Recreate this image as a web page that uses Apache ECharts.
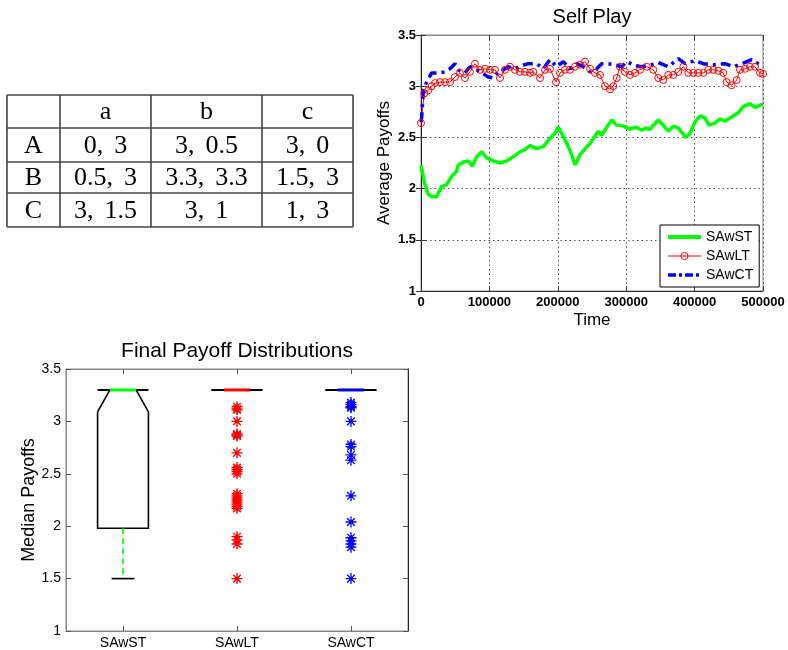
<!DOCTYPE html>
<html>
<head>
<meta charset="utf-8">
<script src="https://cdn.jsdelivr.net/npm/echarts@6/dist/echarts.min.js"></script>
<style>
html,body{margin:0;padding:0;background:#fff;}
#chart{width:788px;height:650px;}
</style>
</head>
<body>
<div id="chart"></div>
<script>
// ---------- Table data ----------
var tableColHeads = ['', 'a', 'b', 'c'];
var tableRowHeads = ['A', 'B', 'C'];
var tableCells = [
  ['0, 3', '3, 0.5', '3, 0'],
  ['0.5, 3', '3.3, 3.3', '1.5, 3'],
  ['3, 1.5', '3, 1', '1, 3']
];

// ---------- Self Play line data ----------
var stT = [0,5000,10000,15600,23000,30000,37600,44900,52200,54600,61900,69200,75000,81400,88700,96000,105700,115500,125300,135000,142300,152000,159400,169100,178800,188600,196000,200700,208000,215300,220300,225100,232500,239800,247100,251900,259200,264200,271500,278800,286100,295800,305600,315000,322600,327500,334800,347000,354200,361500,368900,376200,381100,387000,393300,400600,407900,415200,421000,429800,437100,444400,454200,463900,471200,481000,488300,497100,500000];
var stV = [2.23,2.06,1.95,1.92,1.92,2.02,2.04,2.12,2.17,2.23,2.26,2.27,2.22,2.31,2.36,2.30,2.27,2.25,2.27,2.31,2.35,2.38,2.42,2.39,2.41,2.49,2.54,2.60,2.51,2.41,2.33,2.23,2.33,2.39,2.44,2.49,2.56,2.52,2.60,2.67,2.62,2.61,2.58,2.60,2.57,2.59,2.58,2.67,2.62,2.56,2.61,2.59,2.55,2.50,2.54,2.65,2.71,2.69,2.62,2.64,2.68,2.66,2.70,2.74,2.80,2.83,2.79,2.82,2.82];

var ltT = [0,4800,10700,15600,20500,27800,35100,42400,49700,57000,64300,71600,78900,86300,93600,100900,108200,115500,122800,130100,137400,144700,152000,159400,164200,174000,181300,188600,197400,203200,210500,217800,225100,232500,239800,247100,254400,261700,269000,276300,281100,286100,290900,298200,305600,312900,320200,330000,339600,346900,354200,361500,368900,376200,383500,390800,398100,405400,412700,420000,427300,434700,442000,446900,454200,461500,466400,473700,481000,488300,495600,500000];
var ltV = [2.64,2.93,2.96,3.00,3.03,3.04,3.04,3.04,3.09,3.13,3.08,3.14,3.22,3.16,3.17,3.16,3.16,3.08,3.16,3.19,3.16,3.14,3.14,3.13,3.14,3.08,3.16,3.17,3.04,3.13,3.16,3.16,3.19,3.21,3.24,3.17,3.13,3.11,3.00,2.97,3.00,3.08,3.19,3.14,3.11,3.13,3.16,3.19,3.16,3.08,3.06,3.11,3.11,3.14,3.19,3.13,3.13,3.13,3.13,3.16,3.16,3.15,3.13,3.04,3.01,3.06,3.16,3.17,3.19,3.19,3.13,3.12];

var ctT = [0,1000,3400,8300,15600,25300,35100,42400,49700,54500,64300,71600,78900,88700,98400,105700,113000,120300,127600,137400,147200,156900,169100,178800,188600,198400,208000,217800,227600,237300,247100,256900,264200,273800,283600,293400,300700,310400,320200,332300,346900,361500,376200,386000,400600,412700,427300,444400,456500,468800,483500,495600,500000];
var ctV = [2.65,2.70,2.96,3.04,3.13,3.13,3.14,3.17,3.22,3.16,3.13,3.19,3.17,3.13,3.09,3.08,3.14,3.16,3.19,3.17,3.20,3.22,3.22,3.17,3.26,3.19,3.24,3.17,3.22,3.19,3.14,3.17,3.22,3.22,3.21,3.19,3.24,3.21,3.19,3.20,3.23,3.19,3.27,3.22,3.25,3.22,3.21,3.22,3.19,3.22,3.26,3.21,3.20];

// ---------- Box plot data ----------
var boxCats = ['SAwST', 'SAwLT', 'SAwCT'];
var boxMin = [1.5, 3.3, 3.3];
var boxQ1 = [1.98, 3.3, 3.3];
var boxMed = [3.3, 3.3, 3.3];
var boxQ3 = [3.3, 3.3, 3.3];
var boxMax = [3.3, 3.3, 3.3];
var boxNotchLo = [3.09, 3.3, 3.3];
var ltOutliers = [3.14,3.12,3.11,3.0,2.88,2.87,2.86,2.7,2.56,2.54,2.52,2.5,2.31,2.29,2.27,2.25,2.23,2.21,2.19,2.17,1.9,1.87,1.83,1.5];
var ctOutliers = [3.18,3.16,3.14,3.13,3.0,2.78,2.76,2.68,2.63,2.29,2.04,1.89,1.86,1.83,1.80,1.5];

// ---------- build ----------
function zip(a, b) { return a.map(function (v, i) { return [v, b[i]]; }); }
var boxColors = ['#00ff00', '#ff0000', '#0000ff'];
var starPath = 'path://M0,8.8L20,8.8L20,11.2L0,11.2Z M8.8,0L11.2,0L11.2,20L8.8,20Z M3.9,2.2L17.8,16.1L16.1,17.8L2.2,3.9Z M17.8,3.9L3.9,17.8L2.2,16.1L16.1,2.2Z';

var sansFont = 'Liberation Sans';
var serifFont = '"Liberation Serif"';

// table graphics
var colX = [7, 60, 151, 262, 353];
var rowY = [95, 128, 162, 193, 227];
var graphics = [];
var tStroke = {stroke: '#444', lineWidth: 1.6};
for (var r = 0; r < rowY.length; r++) {
  graphics.push({type: 'line', shape: {x1: colX[0], y1: rowY[r], x2: colX[colX.length - 1], y2: rowY[r]}, style: tStroke});
}
for (var c = 0; c < colX.length; c++) {
  graphics.push({type: 'line', shape: {x1: colX[c], y1: rowY[0], x2: colX[c], y2: rowY[rowY.length - 1]}, style: tStroke});
}
function cellText(txt, ci, ri) {
  return {type: 'text', x: (colX[ci] + colX[ci + 1]) / 2, y: (rowY[ri] + rowY[ri + 1]) / 2 + 1,
    style: {text: txt, font: '26px ' + serifFont, fill: '#000', align: 'center', verticalAlign: 'middle'}};
}
tableColHeads.forEach(function (h, ci) { if (h) graphics.push(cellText(h, ci, 0)); });
tableRowHeads.forEach(function (h, ri) { graphics.push(cellText(h, 0, ri + 1)); });
tableCells.forEach(function (row, ri) {
  row.forEach(function (txt, ci) { graphics.push(cellText(txt.replace(', ', ',\u2006 '), ci + 1, ri + 1)); });
});
// titles
graphics.push({type: 'text', x: 592, y: 17, style: {text: 'Self Play', font: '20px ' + sansFont, fill: '#000', align: 'center', verticalAlign: 'middle'}});
graphics.push({type: 'text', x: 237, y: 351, style: {text: 'Final Payoff Distributions', font: '21px ' + sansFont, fill: '#000', align: 'center', verticalAlign: 'middle'}});

var boxData = boxCats.map(function (c, i) {
  return [i, boxMin[i], boxQ1[i], boxMed[i], boxQ3[i], boxMax[i], boxNotchLo[i]];
});

function renderBox(params, api) {
  var i = api.value(0);
  var band = api.size([1, 0])[0];
  var cx = api.coord([i, 0])[0];
  function Y(v) { return api.coord([i, v])[1]; }
  var hw = band * 0.223, nw = band * 0.115, cw = band * 0.1;
  var yMin = Y(api.value(1)), yQ1 = Y(api.value(2)), yMed = Y(api.value(3)),
      yQ3 = Y(api.value(4)), yMax = Y(api.value(5)), yNl = Y(api.value(6));
  var col = boxColors[i];
  var blk = {stroke: '#000', lineWidth: 1.6, fill: null};
  return {type: 'group', children: [
    {type: 'polyline', shape: {points: [[cx - hw, yNl], [cx - hw, yQ1], [cx + hw, yQ1], [cx + hw, yNl], [cx + nw, yMed]]}, style: blk},
    {type: 'line', shape: {x1: cx - hw, y1: yNl, x2: cx - nw, y2: yMed}, style: blk},
    {type: 'line', shape: {x1: cx - hw, y1: yQ3, x2: cx + hw, y2: yQ3}, style: {stroke: '#000', lineWidth: 2}},
    {type: 'line', shape: {x1: cx, y1: yQ1, x2: cx, y2: yMin}, style: {stroke: col, lineWidth: 1.6, lineDash: [6, 4]}},
    {type: 'line', shape: {x1: cx, y1: yQ3, x2: cx, y2: yMax}, style: {stroke: col, lineWidth: 1.6, lineDash: [6, 4]}},
    {type: 'line', shape: {x1: cx - cw, y1: yMin, x2: cx + cw, y2: yMin}, style: blk},
    {type: 'line', shape: {x1: cx - cw, y1: yMax, x2: cx + cw, y2: yMax}, style: blk},
    {type: 'line', shape: {x1: cx - nw, y1: yMed, x2: cx + nw, y2: yMed}, style: {stroke: col, lineWidth: 3}}
  ]};
}

var gridLineStyle = {show: true, lineStyle: {color: '#555', width: 1, type: [1.5, 3]}};
var lineLabel = {color: '#000', fontSize: 13, fontWeight: 'bold', fontFamily: sansFont};
var boxLabel = {color: '#000', fontSize: 14, fontFamily: sansFont};
var ctDash = [10, 5, 3, 5];

var option = {
  animation: false,
  backgroundColor: '#fff',
  graphic: graphics,
  grid: [
    {left: 421, top: 35, width: 342, height: 256, show: true, borderColor: '#888', borderWidth: 1, backgroundColor: '#fff'},
    {left: 66, top: 369, width: 342, height: 263, show: true, borderColor: '#888', borderWidth: 1, backgroundColor: '#fff'}
  ],
  legend: {
    data: [
      {name: 'SAwST', itemStyle: {opacity: 0}, lineStyle: {width: 4, color: '#00ff00'}},
      {name: 'SAwLT', lineStyle: {width: 1, color: '#ff0000'}, itemStyle: {color: 'rgba(255,255,255,0)', borderColor: '#ff0000', borderWidth: 1}},
      {name: 'SAwCT', itemStyle: {opacity: 0}, lineStyle: {width: 3.5, color: '#0000ff', type: [8, 3, 3, 3]}}
    ],
    orient: 'vertical', left: 660, top: 225,
    itemWidth: 33, itemHeight: 9, itemGap: 5, padding: [5, 6, 5, 6],
    borderColor: '#000', borderWidth: 1, borderRadius: 0, backgroundColor: '#fff',
    textStyle: {fontSize: 14, color: '#000', fontFamily: sansFont}
  },
  xAxis: [
    {type: 'value', gridIndex: 0, min: 0, max: 500000, interval: 100000, position: 'bottom',
     name: 'Time', nameLocation: 'middle', nameGap: 21, nameTextStyle: {fontSize: 17, color: '#000', fontFamily: sansFont},
     axisLine: {show: true, lineStyle: {color: '#333'}}, axisTick: {show: true, inside: true, length: 5, lineStyle: {color: '#333'}},
     axisLabel: Object.assign({margin: 5, formatter: function (v) { return String(v); }}, lineLabel), splitLine: gridLineStyle},
    {type: 'value', gridIndex: 0, min: 0, max: 500000, interval: 100000, position: 'top',
     axisLine: {show: true, lineStyle: {color: '#888'}}, axisTick: {show: true, inside: true, length: 5, lineStyle: {color: '#333'}},
     axisLabel: {show: false}, splitLine: {show: false}},
    {type: 'category', gridIndex: 1, data: boxCats, position: 'bottom',
     axisLine: {show: true, lineStyle: {color: '#888'}}, axisTick: {show: true, inside: true, alignWithLabel: true, length: 5, lineStyle: {color: '#555'}},
     axisLabel: Object.assign({margin: 5}, boxLabel), splitLine: {show: false}},
    {type: 'category', gridIndex: 1, data: boxCats, position: 'top',
     axisLine: {show: true, lineStyle: {color: '#888'}}, axisTick: {show: true, inside: true, alignWithLabel: true, length: 5, lineStyle: {color: '#555'}},
     axisLabel: {show: false}, splitLine: {show: false}}
  ],
  yAxis: [
    {type: 'value', gridIndex: 0, min: 1, max: 3.5, interval: 0.5, position: 'left',
     name: 'Average Payoffs', nameLocation: 'middle', nameGap: 28, nameTextStyle: {fontSize: 17, color: '#000', fontFamily: sansFont},
     axisLine: {show: true, lineStyle: {color: '#888'}}, axisTick: {show: true, inside: true, length: 5, lineStyle: {color: '#333'}},
     axisLabel: Object.assign({margin: 5}, lineLabel), splitLine: gridLineStyle},
    {type: 'value', gridIndex: 0, min: 1, max: 3.5, interval: 0.5, position: 'right',
     axisLine: {show: true, lineStyle: {color: '#222'}}, axisTick: {show: true, inside: true, length: 5, lineStyle: {color: '#333'}},
     axisLabel: {show: false}, splitLine: {show: false}},
    {type: 'value', gridIndex: 1, min: 1, max: 3.5, interval: 0.5, position: 'left',
     name: 'Median Payoffs', nameLocation: 'middle', nameGap: 27, nameTextStyle: {fontSize: 18, color: '#000', fontFamily: sansFont},
     axisLine: {show: true, lineStyle: {color: '#888'}}, axisTick: {show: true, inside: true, length: 5, lineStyle: {color: '#555'}},
     axisLabel: Object.assign({margin: 5}, boxLabel), splitLine: {show: false}},
    {type: 'value', gridIndex: 1, min: 1, max: 3.5, interval: 0.5, position: 'right',
     axisLine: {show: true, lineStyle: {color: '#222'}}, axisTick: {show: true, inside: true, length: 5, lineStyle: {color: '#555'}},
     axisLabel: {show: false}, splitLine: {show: false}}
  ],
  series: [
    {name: 'SAwST', type: 'line', xAxisIndex: 0, yAxisIndex: 0, data: zip(stT, stV),
     symbol: 'none', lineStyle: {color: '#00ff00', width: 3.5}, itemStyle: {color: '#00ff00'}},
    {name: 'SAwLT', type: 'line', xAxisIndex: 0, yAxisIndex: 0, data: zip(ltT, ltV),
     symbol: 'circle', symbolSize: 7, showSymbol: true,
     lineStyle: {color: '#ff0000', width: 1}, itemStyle: {color: 'rgba(255,255,255,0)', borderColor: '#ff0000', borderWidth: 1}},
    {name: 'SAwCT', type: 'line', xAxisIndex: 0, yAxisIndex: 0, data: zip(ctT, ctV), z: 3,
     symbol: 'none', lineStyle: {color: '#0000ff', width: 3.5, type: ctDash}, itemStyle: {color: '#0000ff'}},
    {name: 'boxes', type: 'custom', xAxisIndex: 2, yAxisIndex: 2, data: boxData,
     encode: {x: 0, y: [1, 2, 3, 4, 5]}, renderItem: renderBox, z: 3},
    {name: 'LT outliers', type: 'scatter', xAxisIndex: 2, yAxisIndex: 2,
     data: ltOutliers.map(function (v) { return [1, v]; }), symbol: starPath, symbolSize: 11,
     itemStyle: {color: '#ff0000', opacity: 1}, z: 4},
    {name: 'CT outliers', type: 'scatter', xAxisIndex: 2, yAxisIndex: 2,
     data: ctOutliers.map(function (v) { return [2, v]; }), symbol: starPath, symbolSize: 11,
     itemStyle: {color: '#0000ff', opacity: 1}, z: 4}
  ]
};

var chart = echarts.init(document.getElementById('chart'), null, {renderer: 'canvas'});
chart.setOption(option);
</script>
</body>
</html>
